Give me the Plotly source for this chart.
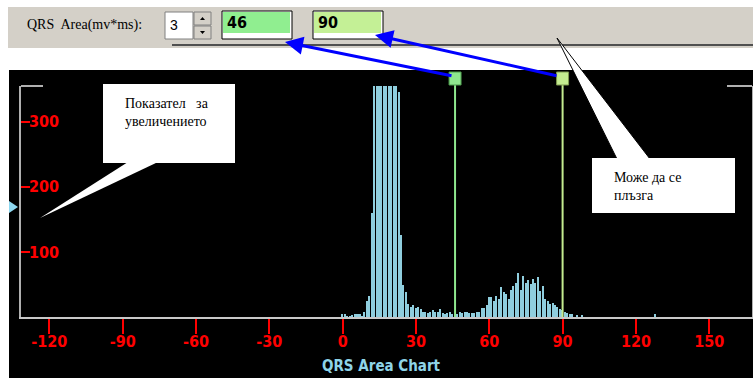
import plotly.graph_objects as go

# QRS area histogram (count per 1 mv*ms bin)
area_bins = list(range(0, 99)) + [128]
area_counts = [
    4, 4, 1, 1, 2, 4, 4, 4, 1, 8,            # 0-9
    24, 33, 160, 380, 410, 430, 445, 450, 440, 425,   # 10-19
    410, 395, 370, 346, 126, 49, 38, 20, 16, 18,      # 20-29
    14, 16, 12, 8, 8, 6, 8, 10, 8, 8,        # 30-39
    12, 6, 4, 6, 8, 4, 4, 4, 8, 6,           # 40-49
    8, 8, 6, 6, 6, 8, 8, 14, 14, 18,         # 50-59
    30, 30, 24, 32, 28, 46, 38, 36, 28, 41,  # 60-69
    48, 52, 68, 42, 63, 52, 57, 50, 59, 52,  # 70-79
    61, 40, 48, 28, 24, 20, 22, 18, 16, 12,  # 80-89
    10, 8, 6, 5, 5, 0, 2, 0, 2,              # 90-98
    4,                                       # 128
]

x_ticks = [-120, -90, -60, -30, 0, 30, 60, 90, 120, 150]
x_tick_text = ["-120", "-90", "-60", "-30", "0", "30", "60", "90", "120", "150"]
y_ticks = [100, 200, 300]

zoom_level = 3
cursor_lo = 46
cursor_hi = 90

W, H = 753, 378
Y_MAX = 355


def px(x):
    return x / W


def py(y):
    return 1 - y / H


narrow = "Liberation Sans Narrow, DejaVu Sans Condensed, Arial Narrow, sans-serif"
serif = "Liberation Serif, Times New Roman, serif"

fig = go.Figure()
fig.add_trace(go.Bar(
    x=area_bins,
    y=area_counts,
    width=0.62,
    marker=dict(color="#8FCEDE", line=dict(width=0)),
    hoverinfo="x+y",
))
# empty trace so the label-only y axis gets drawn
fig.add_trace(go.Scatter(x=[None], y=[None], yaxis="y2", mode="markers",
                         hoverinfo="skip", showlegend=False))

shapes = []
# toolbar strip
shapes.append(dict(type="rect", xref="paper", yref="paper", x0=px(8), x1=1, y0=py(48), y1=py(7),
                   fillcolor="#D4D0C8", line=dict(width=0), layer="below"))
shapes.append(dict(type="line", xref="paper", yref="paper", x0=px(172), x1=1, y0=py(45), y1=py(45),
                   line=dict(color="#505050", width=2)))
# spinner
shapes.append(dict(type="rect", xref="paper", yref="paper", x0=px(165), x1=px(193), y0=py(39), y1=py(12),
                   fillcolor="white", line=dict(color="#808080", width=1)))
for top, bot in [(12, 25), (26, 39)]:
    shapes.append(dict(type="rect", xref="paper", yref="paper", x0=px(194), x1=px(211), y0=py(bot), y1=py(top),
                       fillcolor="#D4D0C8", line=dict(color="#808080", width=1)))
shapes.append(dict(type="path", xref="paper", yref="paper",
                   path=f"M {px(200)},{py(20)} L {px(205)},{py(20)} L {px(202.5)},{py(17)} Z",
                   fillcolor="black", line=dict(width=0)))
shapes.append(dict(type="path", xref="paper", yref="paper",
                   path=f"M {px(200)},{py(31)} L {px(205)},{py(31)} L {px(202.5)},{py(34)} Z",
                   fillcolor="black", line=dict(width=0)))
# value boxes
for x0, x1, col in [(222, 292, "#90EE90"), (313, 383, "#C4F096")]:
    shapes.append(dict(type="rect", xref="paper", yref="paper", x0=px(x0), x1=px(x1), y0=py(39), y1=py(11),
                       fillcolor="white", line=dict(color="black", width=1)))
    shapes.append(dict(type="rect", xref="paper", yref="paper", x0=px(x0 + 1), x1=px(x1 - 2), y0=py(33), y1=py(12),
                       fillcolor=col, line=dict(width=0)))

# black chart panel
shapes.append(dict(type="rect", xref="paper", yref="paper", x0=px(9), x1=1, y0=0, y1=py(70),
                   fillcolor="black", line=dict(width=0), layer="below"))
# top corner brackets
shapes.append(dict(type="line", xref="paper", yref="paper", x0=px(21), x1=px(43), y0=py(86), y1=py(86),
                   line=dict(color="#B0B0B0", width=2)))
shapes.append(dict(type="line", xref="paper", yref="paper", x0=px(727), x1=px(752), y0=py(86), y1=py(86),
                   line=dict(color="#B0B0B0", width=2)))
# zoom marker on left edge
shapes.append(dict(type="path", xref="paper", yref="paper",
                   path=f"M {px(9)},{py(201)} L {px(18)},{py(207)} L {px(9)},{py(213)} Z",
                   fillcolor="#8ED8F0", line=dict(width=0)))

# cursors
for cx, col, edge in [(cursor_lo, "#8EE68E", "#4C9A4C"), (cursor_hi, "#C4EC90", "#7E9A50")]:
    shapes.append(dict(type="line", xref="x", yref="paper", x0=cx, x1=cx, y0=py(317), y1=py(84),
                       line=dict(color=col, width=2)))
    shapes.append(dict(type="rect", xref="x", yref="paper", xsizemode="pixel", xanchor=cx, x0=-6, x1=6,
                       y0=py(85), y1=py(72), fillcolor=col, line=dict(color=edge, width=1)))

# callout 1
shapes.append(dict(type="path", xref="paper", yref="paper",
                   path=f"M {px(128)},{py(162)} L {px(158)},{py(162)} L {px(40)},{py(218)} Z",
                   fillcolor="white", line=dict(width=0)))
shapes.append(dict(type="rect", xref="paper", yref="paper", x0=px(103), x1=px(235), y0=py(163), y1=py(84),
                   fillcolor="white", line=dict(width=0)))
# callout 2
shapes.append(dict(type="path", xref="paper", yref="paper",
                   path=f"M {px(557)},{py(38)} L {px(617)},{py(159)} L {px(650)},{py(159)} Z",
                   fillcolor="white", line=dict(color="black", width=1)))
shapes.append(dict(type="rect", xref="paper", yref="paper", x0=px(592), x1=px(735), y0=py(213), y1=py(158),
                   fillcolor="white", line=dict(width=0)))

annotations = [
    dict(text="QRS  Area(mv*ms):", x=px(25), y=py(25), xanchor="left", yanchor="middle",
         font=dict(family=serif, size=14, color="black")),
    dict(text=str(zoom_level), x=px(168), y=py(25), xanchor="left", yanchor="middle",
         font=dict(family="Liberation Sans, Arial", size=14, color="black")),
    dict(text=str(cursor_lo), x=px(225), y=py(23), xanchor="left", yanchor="middle",
         font=dict(family=narrow, size=16, color="black", weight="bold")),
    dict(text=str(cursor_hi), x=px(316), y=py(23), xanchor="left", yanchor="middle",
         font=dict(family=narrow, size=16, color="black", weight="bold")),
    dict(text="QRS Area Chart", x=px(381), y=py(366), xanchor="center", yanchor="middle",
         font=dict(family=narrow, size=15, color="#8ED4E8", weight="bold")),
    dict(text="Показател   за<br>увеличението", x=px(123), y=py(112), xanchor="left", yanchor="middle",
         align="left", font=dict(family=serif, size=14, color="black")),
    dict(text="Може да се<br>плъзга", x=px(612), y=py(187), xanchor="left", yanchor="middle",
         align="left", font=dict(family=serif, size=14, color="black")),
    # blue arrows from the cursor handles to their value boxes
    dict(text="", x=px(285), y=py(42), ax=168, ay=34, showarrow=True, arrowhead=2, arrowsize=1.2,
         arrowwidth=3, arrowcolor="#0000FF"),
    dict(text="", x=px(375), y=py(35), ax=183, ay=41, showarrow=True, arrowhead=2, arrowsize=1.2,
         arrowwidth=3, arrowcolor="#0000FF"),
]
for a in annotations:
    a.setdefault("xref", "paper")
    a.setdefault("yref", "paper")
    a.setdefault("showarrow", False)

tick_font = dict(family=narrow, size=16, color="#FF0000", weight="bold")

fig.update_layout(
    width=W,
    height=H,
    margin=dict(l=0, r=0, t=0, b=0),
    paper_bgcolor="white",
    plot_bgcolor="black",
    showlegend=False,
    bargap=0,
    shapes=shapes,
    annotations=annotations,
    xaxis=dict(
        domain=[px(21), px(752)],
        range=[-131.6, 167.5],
        tickvals=x_ticks,
        ticktext=x_tick_text,
        ticks="outside",
        ticklen=15,
        tickwidth=2,
        tickcolor="#FF0000",
        ticklabelstandoff=-6,
        tickfont=tick_font,
        showline=True,
        linecolor="#C8C8C8",
        linewidth=2,
        showgrid=False,
        zeroline=False,
    ),
    yaxis=dict(
        domain=[py(317), py(86)],
        range=[0, Y_MAX],
        tickvals=y_ticks,
        ticks="inside",
        ticklen=9,
        tickwidth=2,
        tickcolor="#FF0000",
        showticklabels=False,
        showline=True,
        mirror=True,
        linecolor="#B0B0B0",
        linewidth=2,
        showgrid=False,
        zeroline=False,
    ),
    # y labels sit just right of the axis line, so they come from an overlaid free axis
    yaxis2=dict(
        overlaying="y",
        anchor="free",
        position=px(59),
        side="left",
        domain=[py(317), py(86)],
        range=[0, Y_MAX],
        tickvals=y_ticks,
        ticks="",
        tickfont=tick_font,
        showline=False,
        showgrid=False,
        zeroline=False,
    ),
)

# the page is viewed at exactly the figure size, so drop the default body margin
fig.write_html("out.html", config={"displayModeBar": False},
               post_script="document.body.style.margin='0';")
